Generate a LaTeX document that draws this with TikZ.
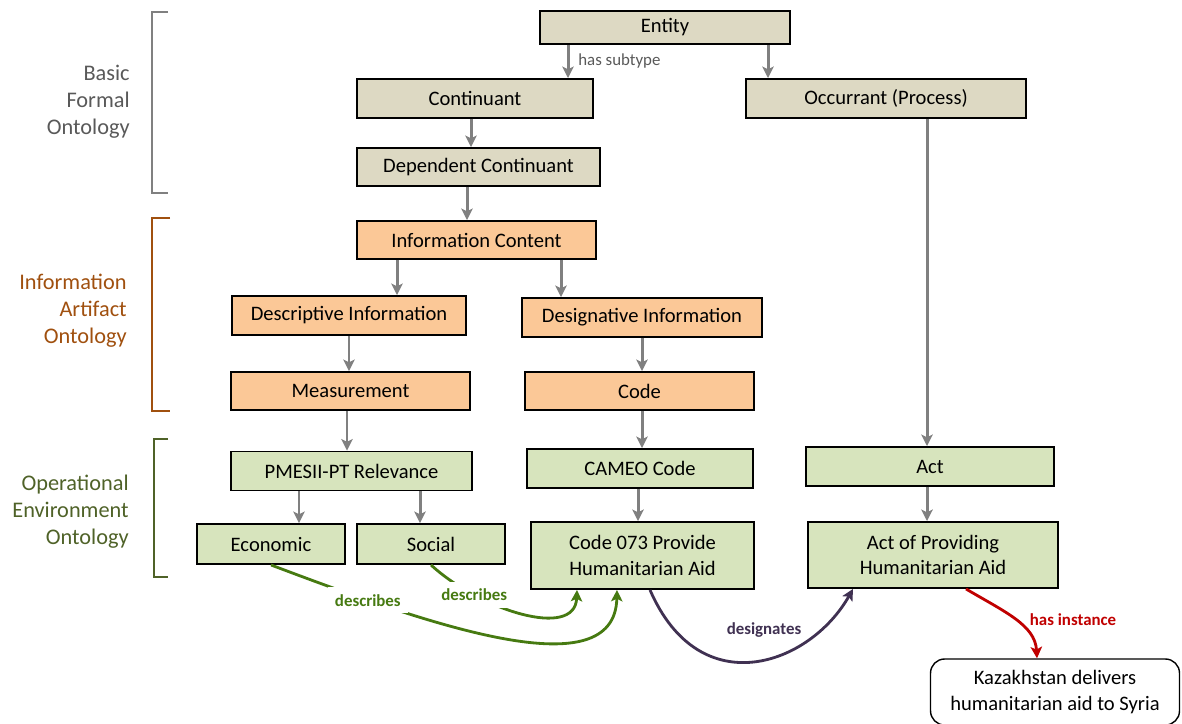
\documentclass[tikz,border=0pt]{standalone}
\usepackage{fontspec}
\setmainfont{Carlito}
\usetikzlibrary{arrows.meta}
\definecolor{bfofill}{HTML}{DDD9C3}
\definecolor{iaofill}{HTML}{FBC897}
\definecolor{oeofill}{HTML}{D7E4BD}
\definecolor{isagray}{HTML}{808080}
\definecolor{bfogray}{HTML}{595959}
\definecolor{iaobrown}{HTML}{A0500F}
\definecolor{oeogreen}{HTML}{4F6228}
\definecolor{descgreen}{HTML}{467A11}
\definecolor{despurple}{HTML}{403152}
\definecolor{instred}{HTML}{C00000}
\newcommand{\boxfont}{\fontsize{11.7}{14.7}\selectfont}
\newcommand{\sidefont}{\fontsize{12.7}{15.3}\selectfont}
\newcommand{\lblfont}{\fontsize{9.6}{11}\selectfont}
\tikzstyle{bfobox}=[draw=black,line width=1.1pt,fill=bfofill,minimum height=0.78cm,inner sep=0pt,align=center,font=\boxfont]
\tikzstyle{iaobox}=[bfobox,fill=iaofill]
\tikzstyle{oeobox}=[bfobox,fill=oeofill]
\tikzstyle{instbox}=[bfobox,fill=white,line width=0.8pt,rounded corners=8pt]
\tikzstyle{isa}=[draw=isagray,line width=1.7pt,-{Stealth[length=6.5pt,width=6.5pt,inset=1.5pt]}]
\tikzstyle{descarrow}=[draw=descgreen,line width=1.6pt,-{Stealth[length=6.5pt,width=6.5pt,inset=1.5pt]}]
\tikzstyle{desarrow}=[descarrow,draw=despurple]
\tikzstyle{instarrow}=[descarrow,draw=instred]
\tikzstyle{desclbl}=[fill=white,text=descgreen,inner sep=4pt,font=\lblfont\bfseries]
\tikzstyle{sidelbl}=[anchor=east,align=right,inner sep=0pt,font=\sidefont]

\begin{document}
\begin{tikzpicture}[x=0.02cm,y=-0.02cm]
    \useasboundingbox (0,0) rectangle (1182,723);
    % brackets and ontology names
    \draw[isagray,line width=1pt] (168,12) -- (152,12) -- (152,193) -- (168,193);
    \draw[iaobrown,line width=1pt] (170,218) -- (152,218) -- (152,411) -- (170,411);
    \draw[oeogreen,line width=1pt] (168,439) -- (154,439) -- (154,577) -- (168,577);
    \node[sidelbl,text=bfogray] (bfolab) at (130,102) {Basic\\Formal\\Ontology};
    \node[sidelbl,text=iaobrown] (iaolab) at (127,311) {Information\\Artifact\\Ontology};
    \node[sidelbl,text=oeogreen] (oeolab) at (129,512) {Operational\\Environment\\Ontology};

    \node[bfobox,minimum width=5cm,minimum height=0.66cm] (ent) at (665,27.5) {Entity};
    \node[bfobox,minimum width=4.72cm] (cont) at (475,98.5) {Continuant};
    \node[bfobox,minimum width=5.6cm] (occ) at (886,98.5) {Occurrant (Process)};
    \node[bfobox,minimum width=4.86cm,minimum height=0.76cm] (dep) at (478.5,167) {Dependent Continuant};
    \node[iaobox,minimum width=4.78cm,minimum height=0.76cm] (info) at (476.5,240) {Information Content};
    \node[iaobox,minimum width=4.68cm] (desc) at (349,315.5) {Descriptive Information};
    \node[iaobox,minimum width=4.8cm] (desig) at (642,317.5) {Designative Information};
    \node[iaobox,minimum width=4.78cm,minimum height=0.76cm] (meas) at (350.5,391) {Measurement};
    \node[iaobox,minimum width=4.58cm,minimum height=0.76cm] (code) at (639.5,391) {Code};
    \node[oeobox,minimum width=4.82cm] (pmesii) at (351.5,471) {PMESII-PT Relevance};
    \node[oeobox,minimum width=4.52cm] (cameo) at (640,468.5) {CAMEO Code};
    \node[oeobox,minimum width=4.96cm] (act) at (930,466.5) {Act};
    \node[oeobox,minimum width=2.96cm,minimum height=0.8cm] (eco) at (271,544) {Economic};
    \node[oeobox,minimum width=2.96cm,minimum height=0.8cm] (soc) at (431,544) {Social};
    \node[oeobox,minimum width=4.46cm,minimum height=1.34cm] (c073) at (642.5,555.5) {Code 073 Provide\\Humanitarian Aid};
    \node[oeobox,minimum width=5cm,minimum height=1.32cm] (aphm) at (933,555) {Act of Providing\\Humanitarian Aid};
    \node[instbox,minimum width=4.98cm,minimum height=1.32cm] (kaz) at (1055,692) {Kazakhstan delivers\\humanitarian aid to Syria};

    \foreach \from/\to/\xa in {ent/cont/568,ent/occ/768,cont/dep/471,dep/info/467,info/desc/397,info/desig/561,desc/meas/349,desig/code/642,meas/pmesii/347,code/cameo/642,occ/act/927,pmesii/eco/299,pmesii/soc/420,cameo/c073/638,act/aphm/927}
    \draw[isa] (\from.south -| \xa,0) -- (\to.north -| \xa,0);
    \node[anchor=west,text=bfogray,inner sep=0pt,font=\lblfont] (hassub) at (578,61) {has subtype};

    \draw[descarrow] (eco.south) .. controls (430,625) and (615,690) .. (c073.south -| 617,0) node[pos=0.2,desclbl] (desclab1) {describes};
    \draw[descarrow] (soc.south) .. controls (480,610) and (575,640) .. (c073.south -| 577,0) node[pos=0.25,desclbl] (desclab2) {describes};
    \draw[desarrow] (c073.south -| 650,0) .. controls (700,705) and (810,665) .. (aphm.south -| 853,0);
    \node[text=despurple,font=\lblfont\bfseries] (deslab) at (764,630) {designates};
    \draw[instarrow] (aphm.south -| 966,0) .. controls (1005,612) and (1035,625) .. (kaz.north -| 1037,0);
    \node[text=instred,font=\lblfont\bfseries] (instlab) at (1073,620) {has instance};
\end{tikzpicture}
\end{document}
